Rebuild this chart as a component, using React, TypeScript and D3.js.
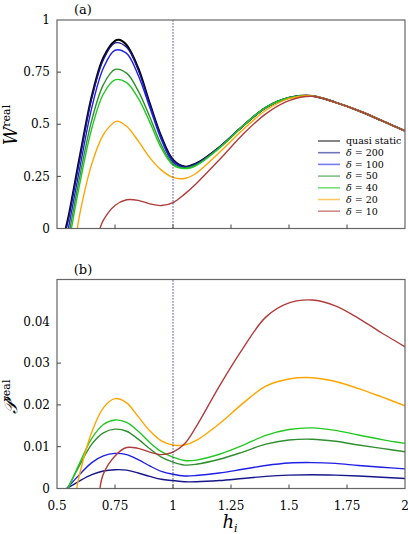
import React from 'react';
import * as d3 from 'd3';

// h_i sample positions (shared by the right-hand part of every curve)
const hRight = [1.2, 1.3, 1.4, 1.5, 1.6, 1.7, 1.8, 1.9, 2.0];

// panel (a): W^real
const wQuasiH = [0.5375, 0.55, 0.6, 0.65, 0.7, 0.75, 0.767, 0.8, 0.85, 0.9, 0.95, 1.0, 1.05, 1.1];
const wQuasi = [0, 0.06, 0.356, 0.635, 0.82, 0.9, 0.905, 0.88, 0.77, 0.6, 0.44, 0.33, 0.297, 0.312];
const wTail = [0.39, 0.49, 0.58, 0.627, 0.636, 0.605, 0.565, 0.517, 0.468];

const wH = [0.55, 0.6, 0.65, 0.7, 0.75, 0.8, 0.85, 0.9, 0.95, 1.0, 1.05, 1.1];
const w200 = [0.05, 0.345, 0.625, 0.81, 0.89, 0.87, 0.76, 0.595, 0.435, 0.327, 0.296, 0.311];
const w100 = [0.005, 0.3, 0.58, 0.77, 0.855, 0.84, 0.735, 0.58, 0.425, 0.318, 0.292, 0.308];
const w50 = [0, 0.26, 0.52, 0.69, 0.763, 0.745, 0.66, 0.535, 0.4, 0.31, 0.29, 0.305];
const w40 = [0, 0.225, 0.48, 0.645, 0.713, 0.7, 0.625, 0.51, 0.385, 0.305, 0.287, 0.302];
const w50Start = 0.556;
const w40Start = 0.562;

const w20H = [0.5875, 0.6, 0.65, 0.7, 0.75, 0.76, 0.8, 0.85, 0.9, 0.95, 1.0, 1.05, 1.1, 1.2, 1.3, 1.4, 1.5, 1.6, 1.7, 1.8, 1.9, 2.0];
const w20 = [0, 0.08, 0.31, 0.45, 0.512, 0.515, 0.49, 0.42, 0.34, 0.28, 0.245, 0.24, 0.265, 0.365, 0.472, 0.567, 0.623, 0.636, 0.605, 0.565, 0.517, 0.468];

const w10H = [0.685, 0.7, 0.75, 0.8, 0.85, 0.9, 0.95, 1.0, 1.05, 1.1, 1.2, 1.3, 1.4, 1.5, 1.6, 1.7, 1.8, 1.9, 2.0];
const w10 = [0, 0.04, 0.11, 0.138, 0.135, 0.118, 0.11, 0.124, 0.165, 0.215, 0.33, 0.45, 0.55, 0.613, 0.634, 0.605, 0.565, 0.517, 0.468];

// panel (b): P^real
const pH = [0.6, 0.65, 0.7, 0.75, 0.8, 0.85, 0.9, 0.95, 1.0, 1.05, 1.1, 1.2, 1.3, 1.4, 1.5, 1.6, 1.7, 1.8, 1.9, 2.0];
const p200 = [0.0019, 0.0033, 0.0042, 0.0045, 0.0044, 0.0037, 0.0029, 0.0022, 0.0019, 0.0016, 0.0016, 0.0019, 0.0024, 0.0029, 0.0032, 0.0033, 0.0032, 0.003, 0.0027, 0.0024];
const p100 = [0.0035, 0.0062, 0.0078, 0.0084, 0.0081, 0.0069, 0.0054, 0.0041, 0.0034, 0.003, 0.0031, 0.0037, 0.0046, 0.0055, 0.0061, 0.0062, 0.006, 0.0055, 0.0051, 0.0047];
const p50 = [0.0058, 0.0106, 0.0133, 0.0142, 0.0137, 0.0118, 0.0095, 0.0075, 0.0063, 0.0056, 0.0058, 0.007, 0.0087, 0.0106, 0.0116, 0.0118, 0.0113, 0.0104, 0.0096, 0.0088];
const p40 = [0.0064, 0.012, 0.0153, 0.0164, 0.0158, 0.0137, 0.011, 0.0088, 0.0075, 0.0067, 0.0068, 0.0082, 0.0103, 0.0127, 0.0141, 0.0145, 0.0139, 0.0128, 0.0117, 0.0108];
const pStart = [0.542, 0.542, 0.545, 0.548];

const p20H = [0.585, 0.6, 0.65, 0.7, 0.75, 0.8, 0.85, 0.9, 0.95, 1.0, 1.05, 1.1, 1.2, 1.3, 1.4, 1.5, 1.6, 1.7, 1.8, 1.9, 2.0];
const p20 = [0, 0.004, 0.0135, 0.0193, 0.0215, 0.0205, 0.0172, 0.0138, 0.0114, 0.0104, 0.0104, 0.0115, 0.0155, 0.0203, 0.0245, 0.0262, 0.0265, 0.0256, 0.0239, 0.0219, 0.0198];

const p10H = [0.685, 0.7, 0.75, 0.8, 0.85, 0.9, 0.95, 1.0, 1.05, 1.1, 1.2, 1.3, 1.4, 1.5, 1.6, 1.7, 1.8, 1.9, 2.0];
const p10 = [0, 0.0035, 0.0078, 0.0098, 0.0096, 0.0087, 0.0081, 0.0087, 0.0107, 0.0148, 0.0245, 0.0334, 0.041, 0.0444, 0.0451, 0.0437, 0.0407, 0.0372, 0.0339];

const labels = ['quasi static', '200', '100', '50', '40', '20', '10'];
const colors = ['#000000', '#16168a', '#1f1fe6', '#2f8f2f', '#22c822', '#ffa500', '#b03c3c'];

const xTicks = [0.5, 0.75, 1, 1.25, 1.5, 1.75, 2];
const xTickLabels = ['0.5', '0.75', '1', '1.25', '1.5', '1.75', '2'];
const wTicks = [0, 0.25, 0.5, 0.75, 1];
const wTickLabels = ['0', '0.25', '0.5', '0.75', '1'];
const pTicks = [0, 0.01, 0.02, 0.03, 0.04];
const pTickLabels = ['0', '0.01', '0.02', '0.03', '0.04'];

const zip = (xs: number[], ys: number[]) => xs.map((x, i) => [x, ys[i]] as [number, number]);

const wSeries: [number, number][][] = [
  zip([...wQuasiH, ...hRight], [...wQuasi, ...wTail]),
  zip([0.54, ...wH, ...hRight], [0, ...w200, ...wTail]),
  zip([0.549, ...wH.slice(1), ...hRight], [0, ...w100.slice(1), ...wTail]),
  zip([w50Start, ...wH.slice(1), ...hRight], [0, ...w50.slice(1), 0.388, ...wTail.slice(1)]),
  zip([w40Start, ...wH.slice(1), ...hRight], [0, ...w40.slice(1), 0.385, ...wTail.slice(1)]),
  zip(w20H, w20),
  zip(w10H, w10),
];

const pSeries: [number, number][][] = [
  zip([pStart[0], ...pH], [0, ...p200]),
  zip([pStart[1], ...pH], [0, ...p100]),
  zip([pStart[2], ...pH], [0, ...p50]),
  zip([pStart[3], ...pH], [0, ...p40]),
  zip(p20H, p20),
  zip(p10H, p10),
];

const L = 57, R = 405;
const font = "'DejaVu Serif', serif";

const x = d3.scaleLinear().domain([0.5, 2]).range([L, R]);
const yA = d3.scaleLinear().domain([0, 1]).range([228.5, 20]);
const yB = d3.scaleLinear().domain([0, 0.05]).range([488.5, 279.5]);

const Panel = ({ y, ticks, tickLabels, series, cols, widths, id, showX }: any) => {
  const line = d3.line<[number, number]>().x((d) => x(d[0])).y((d) => y(d[1])).curve(d3.curveCatmullRom.alpha(0.5));
  const [y0, y1] = y.range();
  return (
    <g>
      <clipPath id={id}>
        <rect x={L} y={y1} width={R - L} height={y0 - y1} />
      </clipPath>
      <g clipPath={`url(#${id})`}>
        {series.map((s: [number, number][], i: number) => (
          <path key={i} d={line(s) || ''} fill="none" stroke={cols[i]} strokeWidth={widths[i]} />
        ))}
      </g>
      <line x1={x(1)} x2={x(1)} y1={y0} y2={y1} stroke="#1a1a6a" strokeWidth={1} strokeDasharray="1.2,1.8" />
      <rect x={L} y={y1} width={R - L} height={y0 - y1} fill="none" stroke="#666" strokeWidth={1.2} />
      {xTicks.slice(1, -1).map((t) => (
        <line key={t} x1={x(t)} x2={x(t)} y1={y0} y2={y0 - 4} stroke="#444" />
      ))}
      {ticks.slice(1, -1).map((t: number) => (
        <line key={t} x1={L} x2={L + 4} y1={y(t)} y2={y(t)} stroke="#444" />
      ))}
      {ticks.map((t: number, i: number) => (
        <text key={t} x={50} y={y(t)} dy="0.35em" textAnchor="end" fontSize={12}>
          {tickLabels[i]}
        </text>
      ))}
      {showX &&
        xTicks.map((t, i) => (
          <text key={t} x={x(t)} y={510} textAnchor="middle" fontSize={12}>
            {xTickLabels[i]}
          </text>
        ))}
    </g>
  );
};

export default function App() {
  return (
    <svg width={408} height={534} fontFamily={font} style={{ position: 'absolute', left: 0, top: 0 }}>
      <rect width={408} height={534} fill="#fff" />
      <text x={83} y={14} textAnchor="middle" fontSize={13}>(a)</text>
      <text x={83} y={274} textAnchor="middle" fontSize={13}>(b)</text>
      <Panel y={yA} ticks={wTicks} tickLabels={wTickLabels} series={wSeries} cols={colors} widths={[2, 1.4, 1.4, 1.4, 1.4, 1.4, 1.4]} id="ca" showX={false} />
      <Panel y={yB} ticks={pTicks} tickLabels={pTickLabels} series={pSeries} cols={colors.slice(1)} widths={[1.4, 1.4, 1.4, 1.4, 1.4, 1.4]} id="cb" showX={true} />
      <text transform="translate(17,125) rotate(-90)" textAnchor="middle">
        <tspan fontSize={18} fontStyle="italic">W</tspan>
        <tspan fontSize={11} dy={-7}>real</tspan>
      </text>
      <text transform="translate(17,397) rotate(-90)" textAnchor="middle">
        <tspan fontSize={18} fontStyle="italic">𝒫</tspan>
        <tspan fontSize={11} dy={-7}>real</tspan>
      </text>
      <text x={230} y={528} textAnchor="middle">
        <tspan fontSize={18} fontStyle="italic">h</tspan>
        <tspan fontSize={11} fontStyle="italic" dy={4}>i</tspan>
      </text>
      {labels.map((lab, i) => {
        const ly = 141 + i * 11.7;
        return (
          <g key={lab}>
            <line x1={318} x2={340} y1={ly} y2={ly} stroke={colors[i]} strokeWidth={1.6} strokeOpacity={0.6} />
            <text x={346} y={ly} dy="0.35em" fontSize={9.5}>
              {i === 0 ? (
                lab
              ) : (
                <>
                  <tspan fontStyle="italic">δ</tspan> = {lab}
                </>
              )}
            </text>
          </g>
        );
      })}
    </svg>
  );
}
